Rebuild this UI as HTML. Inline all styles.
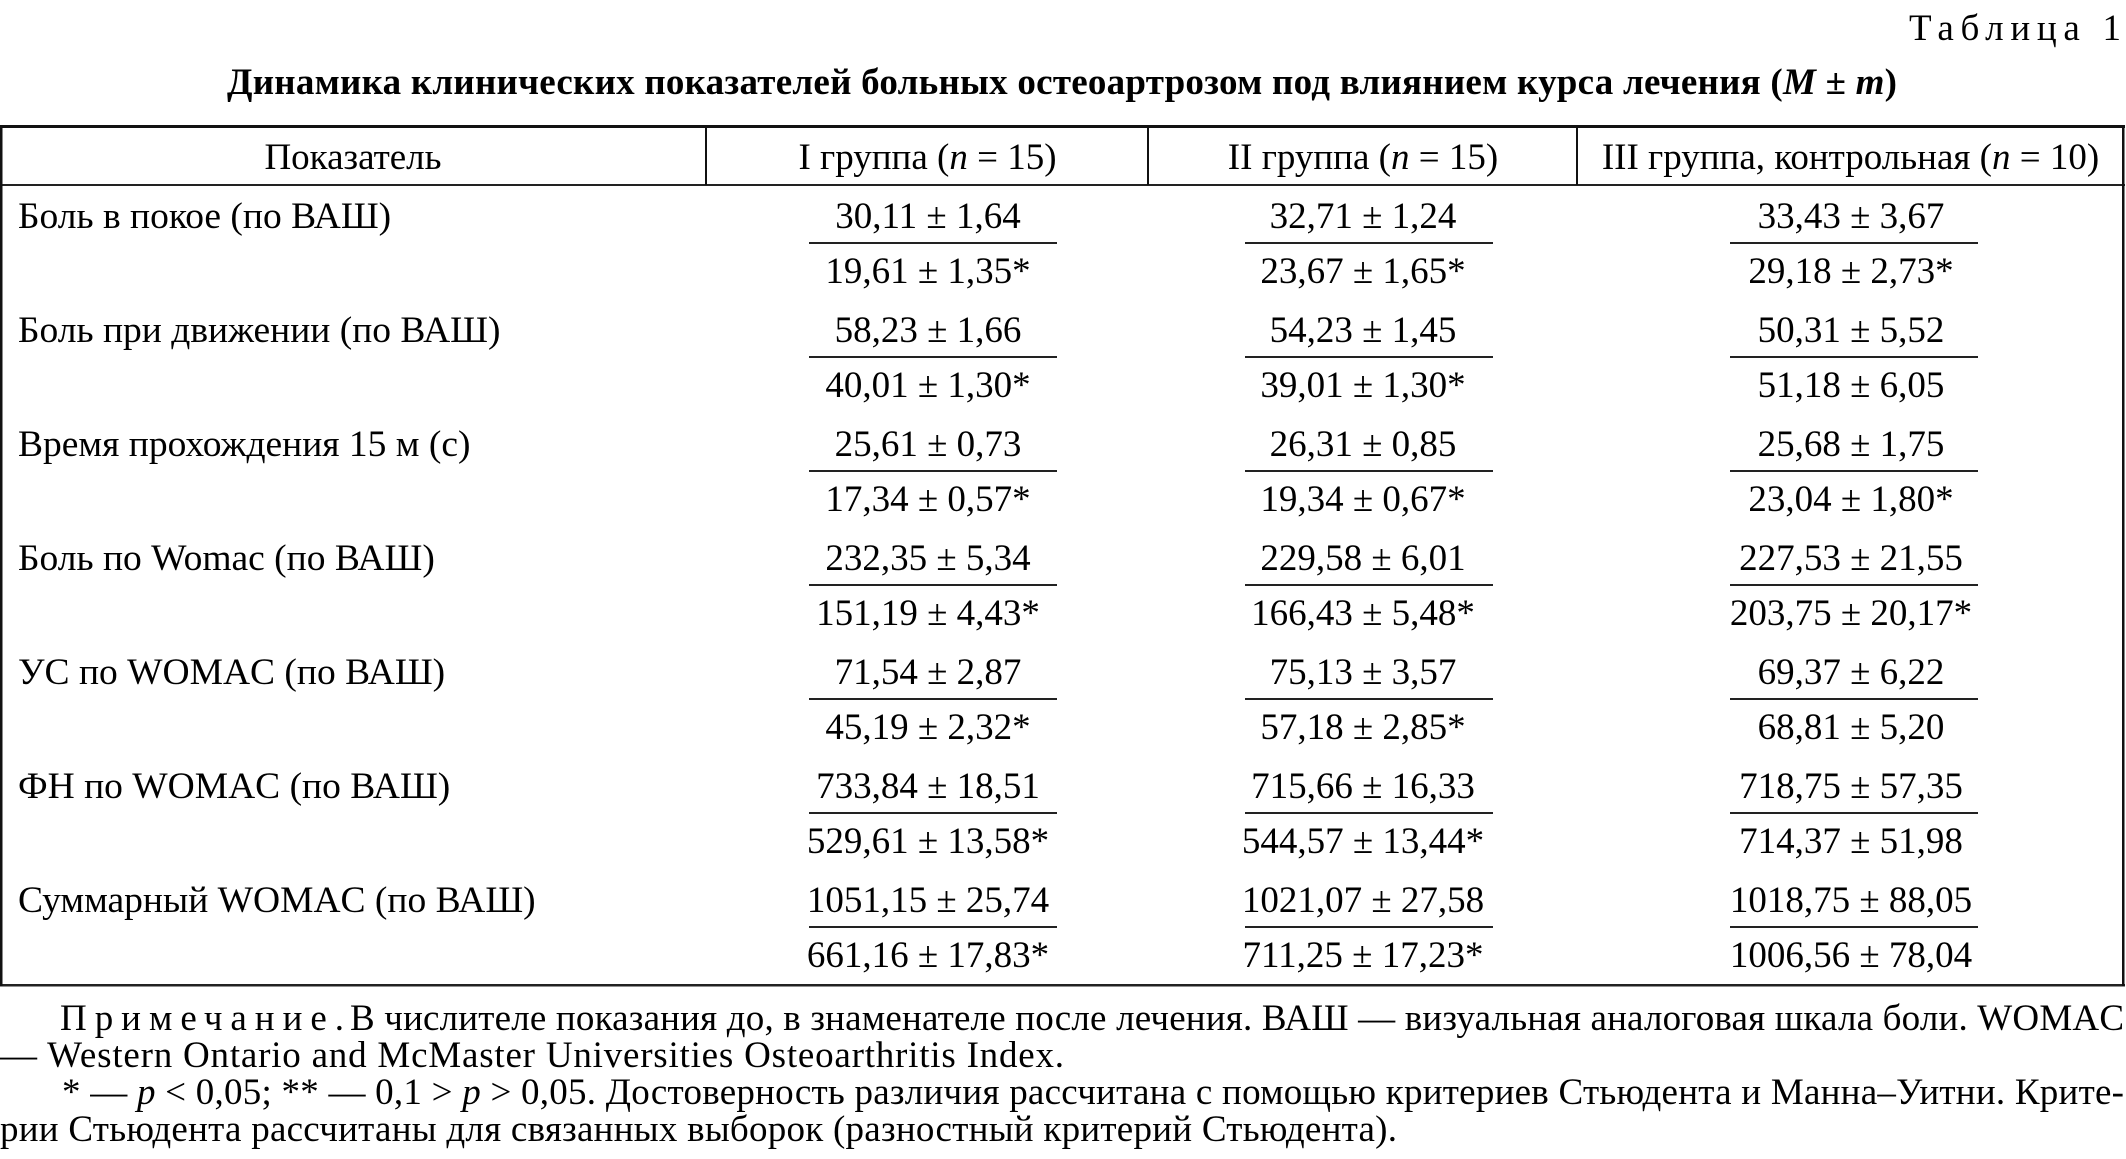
<!DOCTYPE html>
<html>
<head>
<meta charset="utf-8">
<style>
  html, body { margin:0; padding:0; background:#fff; }
  body { width:2126px; height:1159px; overflow:hidden; }
  svg { display:block; }
  text { font-family: "Liberation Serif", "Times New Roman", serif; font-size:37px; fill:#000; }
  .b { font-weight:bold; }
  .i { font-style:italic; }
  .c { text-anchor:middle; }
  .lbl { font-size:37.5px; }
</style>
</head>
<body>
<svg width="2126" height="1159" viewBox="0 0 2126 1159" xmlns="http://www.w3.org/2000/svg">
  <rect x="0" y="0" width="2126" height="1159" fill="#fff"/>

  <!-- Table label -->
  <text x="1909" y="40" font-size="36" textLength="212" lengthAdjust="spacing">Таблица 1</text>

  <!-- Title -->
  <text class="b c" x="1062" y="94" textLength="1670" lengthAdjust="spacing">Динамика клинических показателей больных остеоартрозом под влиянием курса лечения (<tspan class="i">M</tspan> ± <tspan class="i">m</tspan>)</text>

  <!-- Table borders -->
  <rect x="0" y="125" width="2125" height="3" fill="#111"/>
  <rect x="0" y="184" width="2125" height="2" fill="#222"/>
  <rect x="0" y="984" width="2125" height="2.5" fill="#222"/>
  <rect x="0" y="125" width="2.5" height="861" fill="#111"/>
  <rect x="2122" y="125" width="2.5" height="861" fill="#111"/>
  <rect x="705" y="126" width="2" height="59" fill="#111"/>
  <rect x="1147" y="126" width="2" height="59" fill="#111"/>
  <rect x="1576" y="126" width="2" height="59" fill="#111"/>

  <!-- Header -->
  <text class="c" x="353" y="169">Показатель</text>
  <text class="c" x="927.5" y="169">I группа (<tspan class="i">n</tspan> = 15)</text>
  <text class="c" x="1363" y="169">II группа (<tspan class="i">n</tspan> = 15)</text>
  <text class="c" x="1850.5" y="169">III группа, контрольная (<tspan class="i">n</tspan> = 10)</text>

  <!-- Row labels -->
  <text class="lbl" x="18" y="228">Боль в покое (по ВАШ)</text>
  <text class="lbl" x="18" y="342">Боль при движении (по ВАШ)</text>
  <text class="lbl" x="18" y="456">Время прохождения 15 м (с)</text>
  <text class="lbl" x="18" y="570">Боль по Womac (по ВАШ)</text>
  <text class="lbl" x="18" y="684">УС по WOMAC (по ВАШ)</text>
  <text class="lbl" x="18" y="798">ФН по WOMAC (по ВАШ)</text>
  <text class="lbl" x="18" y="912">Суммарный WOMAC (по ВАШ)</text>

  <!-- Fraction lines -->
  <g fill="#222">
    <rect x="809" y="242" width="248" height="2"/><rect x="1245" y="242" width="248" height="2"/><rect x="1730" y="242" width="248" height="2"/>
    <rect x="809" y="356" width="248" height="2"/><rect x="1245" y="356" width="248" height="2"/><rect x="1730" y="356" width="248" height="2"/>
    <rect x="809" y="470" width="248" height="2"/><rect x="1245" y="470" width="248" height="2"/><rect x="1730" y="470" width="248" height="2"/>
    <rect x="809" y="584" width="248" height="2"/><rect x="1245" y="584" width="248" height="2"/><rect x="1730" y="584" width="248" height="2"/>
    <rect x="809" y="698" width="248" height="2"/><rect x="1245" y="698" width="248" height="2"/><rect x="1730" y="698" width="248" height="2"/>
    <rect x="809" y="812" width="248" height="2"/><rect x="1245" y="812" width="248" height="2"/><rect x="1730" y="812" width="248" height="2"/>
    <rect x="809" y="926" width="248" height="2"/><rect x="1245" y="926" width="248" height="2"/><rect x="1730" y="926" width="248" height="2"/>
  </g>

  <!-- Group I -->
  <text class="c" x="928" y="228">30,11 ± 1,64</text>
  <text class="c" x="928" y="283">19,61 ± 1,35*</text>
  <text class="c" x="928" y="342">58,23 ± 1,66</text>
  <text class="c" x="928" y="397">40,01 ± 1,30*</text>
  <text class="c" x="928" y="456">25,61 ± 0,73</text>
  <text class="c" x="928" y="511">17,34 ± 0,57*</text>
  <text class="c" x="928" y="570">232,35 ± 5,34</text>
  <text class="c" x="928" y="625">151,19 ± 4,43*</text>
  <text class="c" x="928" y="684">71,54 ± 2,87</text>
  <text class="c" x="928" y="739">45,19 ± 2,32*</text>
  <text class="c" x="928" y="798">733,84 ± 18,51</text>
  <text class="c" x="928" y="853">529,61 ± 13,58*</text>
  <text class="c" x="928" y="912">1051,15 ± 25,74</text>
  <text class="c" x="928" y="967">661,16 ± 17,83*</text>

  <!-- Group II -->
  <text class="c" x="1363" y="228">32,71 ± 1,24</text>
  <text class="c" x="1363" y="283">23,67 ± 1,65*</text>
  <text class="c" x="1363" y="342">54,23 ± 1,45</text>
  <text class="c" x="1363" y="397">39,01 ± 1,30*</text>
  <text class="c" x="1363" y="456">26,31 ± 0,85</text>
  <text class="c" x="1363" y="511">19,34 ± 0,67*</text>
  <text class="c" x="1363" y="570">229,58 ± 6,01</text>
  <text class="c" x="1363" y="625">166,43 ± 5,48*</text>
  <text class="c" x="1363" y="684">75,13 ± 3,57</text>
  <text class="c" x="1363" y="739">57,18 ± 2,85*</text>
  <text class="c" x="1363" y="798">715,66 ± 16,33</text>
  <text class="c" x="1363" y="853">544,57 ± 13,44*</text>
  <text class="c" x="1363" y="912">1021,07 ± 27,58</text>
  <text class="c" x="1363" y="967">711,25 ± 17,23*</text>

  <!-- Group III -->
  <text class="c" x="1851" y="228">33,43 ± 3,67</text>
  <text class="c" x="1851" y="283">29,18 ± 2,73*</text>
  <text class="c" x="1851" y="342">50,31 ± 5,52</text>
  <text class="c" x="1851" y="397">51,18 ± 6,05</text>
  <text class="c" x="1851" y="456">25,68 ± 1,75</text>
  <text class="c" x="1851" y="511">23,04 ± 1,80*</text>
  <text class="c" x="1851" y="570">227,53 ± 21,55</text>
  <text class="c" x="1851" y="625">203,75 ± 20,17*</text>
  <text class="c" x="1851" y="684">69,37 ± 6,22</text>
  <text class="c" x="1851" y="739">68,81 ± 5,20</text>
  <text class="c" x="1851" y="798">718,75 ± 57,35</text>
  <text class="c" x="1851" y="853">714,37 ± 51,98</text>
  <text class="c" x="1851" y="912">1018,75 ± 88,05</text>
  <text class="c" x="1851" y="967">1006,56 ± 78,04</text>

  <!-- Footnotes -->
  <text x="60" y="1030" textLength="284" lengthAdjust="spacing">Примечание.</text>
  <text x="350" y="1030" textLength="1774" lengthAdjust="spacing">В числителе показания до, в знаменателе после лечения. ВАШ — визуальная аналоговая шкала боли. WOMAC</text>
  <text x="0" y="1067" textLength="1064" lengthAdjust="spacing">— Western Ontario and McMaster Universities Osteoarthritis Index.</text>
  <text x="62" y="1104" textLength="2062" lengthAdjust="spacing">* — <tspan class="i">p</tspan> &lt; 0,05; ** — 0,1 &gt; <tspan class="i">p</tspan> &gt; 0,05. Достоверность различия рассчитана с помощью критериев Стьюдента и Манна–Уитни. Крите-</text>
  <text x="0" y="1141" textLength="1397" lengthAdjust="spacing">рии Стьюдента рассчитаны для связанных выборок (разностный критерий Стьюдента).</text>
</svg>
</body>
</html>
